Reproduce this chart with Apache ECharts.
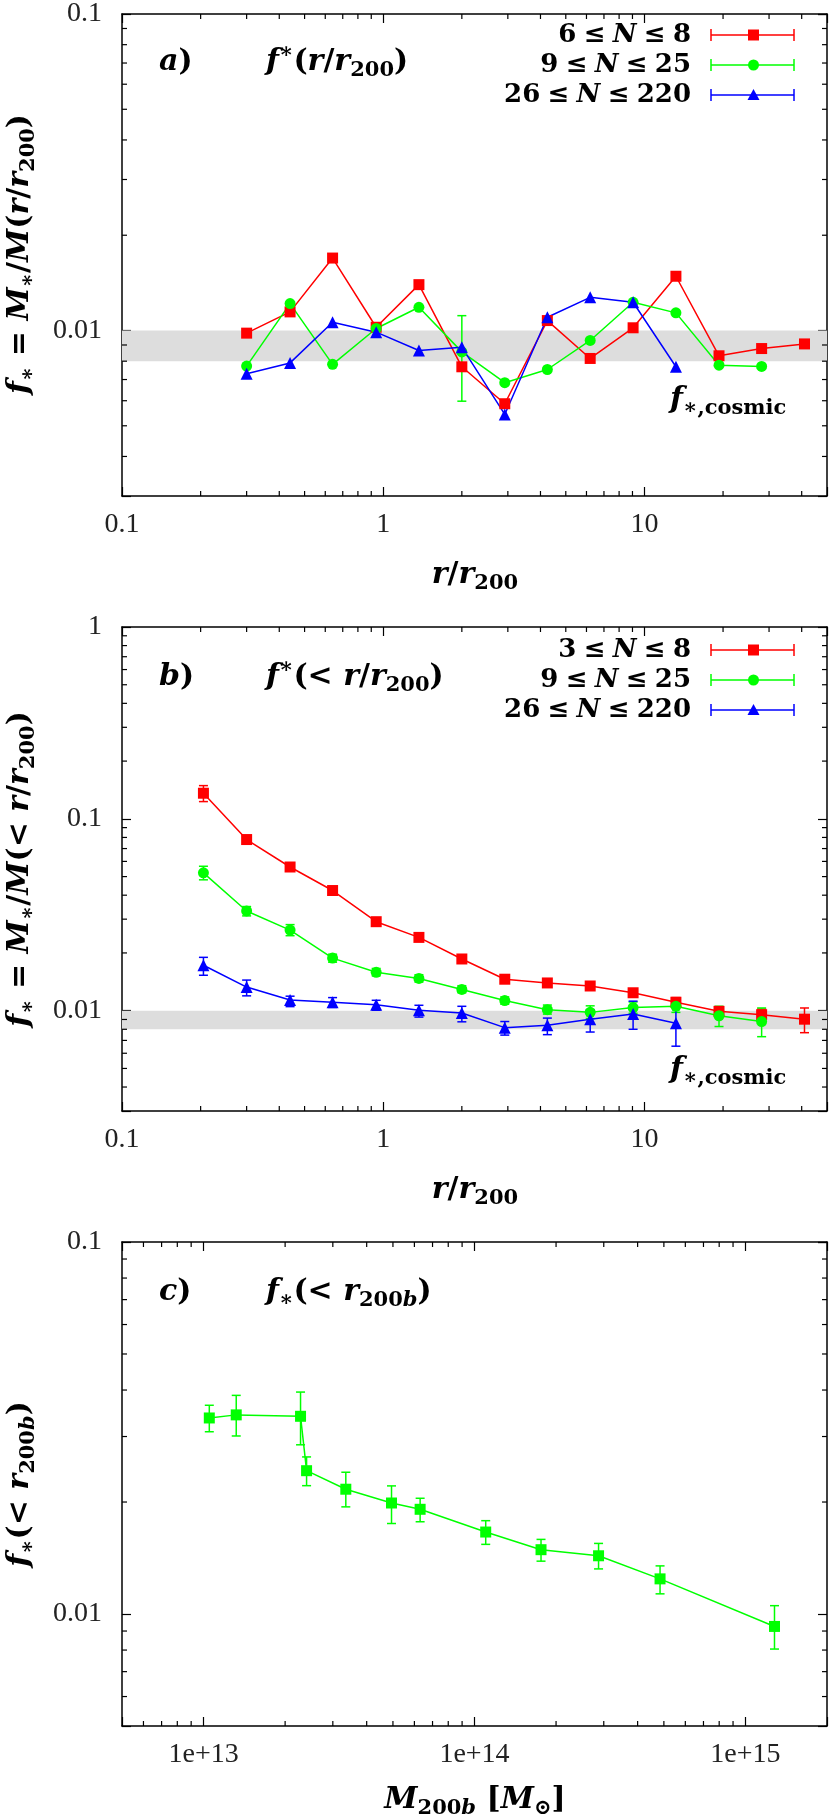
<!DOCTYPE html>
<html>
<head>
<meta charset="utf-8">
<title>f* profiles</title>
<script src="https://cdn.jsdelivr.net/npm/echarts@6/dist/echarts.min.js"></script>
<style>body{margin:0;background:#fff}</style>
</head>
<body>
<div id="main" style="width:830px;height:1817px;"></div>
<script type="text/javascript">
// ---- panel a: f*(r/r200), differential ----
var xA = [0.3, 0.44, 0.64, 0.94, 1.37, 2.0, 2.92, 4.25, 6.2, 9.05, 13.2, 19.3, 28.1, 41];
var aRed = [0.00981, 0.01145, 0.01694, 0.01024, 0.01396, 0.00768, 0.00587, 0.01075, 0.00816, 0.0102, 0.01484, 0.00832, 0.00877, 0.00907];
var aGreen = [0.00772, 0.01216, 0.00782, 0.01015, 0.01184, 0.00856, 0.00684, 0.00753, 0.0093, 0.01228, 0.01137, 0.00777, 0.0077];
var aBlue = [0.0073, 0.0079, 0.01062, 0.00988, 0.00865, 0.00886, 0.00543, 0.01101, 0.01273, 0.01228, 0.00768];
var aGreenErr = [[2.0, 0.00598, 0.01114]];

// ---- panel b: f*(<r/r200), cumulative ----
var xB = [0.205, 0.3, 0.44, 0.64, 0.94, 1.37, 2.0, 2.92, 4.25, 6.2, 9.05, 13.2, 19.3, 28.1, 41];
var bRed = [0.136, 0.078, 0.0561, 0.0423, 0.0291, 0.0241, 0.0186, 0.01459, 0.01395, 0.01345, 0.0124, 0.01107, 0.00992, 0.00953, 0.00903];
var bRedLo = [0.123, 0.0755, 0.0545, 0.041, 0.0283, 0.0235, 0.0181, 0.0142, 0.0135, 0.0130, 0.0119, 0.0105, 0.0094, 0.0089, 0.00768];
var bRedHi = [0.149, 0.0805, 0.0578, 0.0436, 0.0299, 0.0247, 0.0191, 0.0150, 0.0144, 0.0139, 0.0129, 0.0117, 0.0105, 0.0102, 0.01033];
var bGreen = [0.0523, 0.0331, 0.0263, 0.0188, 0.01585, 0.01472, 0.01291, 0.01129, 0.01012, 0.0098, 0.01038, 0.01054, 0.00941, 0.00878];
var bGreenLo = [0.0481, 0.0312, 0.0246, 0.0179, 0.0152, 0.0141, 0.0124, 0.0108, 0.0096, 0.0091, 0.0097, 0.0098, 0.00827, 0.00732];
var bGreenHi = [0.0566, 0.0349, 0.0281, 0.0197, 0.0166, 0.0154, 0.0135, 0.0118, 0.0107, 0.0106, 0.0111, 0.0113, 0.01054, 0.01033];
var bBlue = [0.01726, 0.01328, 0.01138, 0.01107, 0.01073, 0.01004, 0.00972, 0.00816, 0.0084, 0.00903, 0.0096, 0.00861];
var bBlueLo = [0.0153, 0.01195, 0.0105, 0.0104, 0.01005, 0.00926, 0.00875, 0.00746, 0.0075, 0.00774, 0.008, 0.00653];
var bBlueHi = [0.01897, 0.01444, 0.0119, 0.0117, 0.01133, 0.01067, 0.01054, 0.00878, 0.00915, 0.01012, 0.01121, 0.01107];

// ---- panel c: f*(<r200b) vs M200b ----
var xC = [1.05e13, 1.32e13, 2.28e13, 2.40e13, 3.35e13, 4.94e13, 6.3e13, 1.10e14, 1.76e14, 2.87e14, 4.84e14, 1.28e15];
var cVal = [0.03365, 0.0343, 0.0340, 0.02428, 0.02165, 0.01988, 0.01912, 0.01661, 0.01489, 0.01434, 0.01243, 0.00926];
var cLo = [0.0309, 0.0301, 0.0285, 0.02213, 0.01941, 0.01751, 0.0177, 0.01539, 0.01387, 0.01322, 0.01133, 0.00805];
var cHi = [0.0364, 0.0387, 0.0395, 0.02644, 0.02405, 0.0221, 0.02047, 0.01782, 0.01587, 0.01548, 0.01347, 0.01053];

// cosmic stellar fraction band
var cosmicBand = [0.008, 0.01];

var legendA = [['6', '8'], ['9', '25'], ['26', '220']];
var legendB = [['3', '8'], ['9', '25'], ['26', '220']];

var RED = '#ff0000', GREEN = '#00ff00', BLUE = '#0000ff';
var FONT = '"Liberation Serif", "DejaVu Serif", serif';   // tick labels
var MATH = '"DejaVu Serif", serif';                        // bold math text

// grid boxes (pixels)
var GL = 122, GW = 706, GH = 484;
var tops = [12, 627, 1242];

var myChart = echarts.init(document.getElementById('main'));

function zip(x, y) { return y.map(function (v, i) { return [x[i], v]; }); }
function zip3(x, lo, hi) { return lo.map(function (v, i) { return [x[i], v, hi[i]]; }); }

function minorTicks(lo, hi) {
	var out = [];
	for (var e = Math.floor(Math.log10(lo)); e <= Math.ceil(Math.log10(hi)); e++) {
		for (var m = 2; m <= 9; m++) {
			var v = m * Math.pow(10, e);
			if (v > lo * 1.0001 && v < hi * 0.9999) out.push(v);
		}
	}
	return out;
}

function decadeLabel(sci) {
	return function (v) {
		var l = Math.log10(v), e = Math.round(l);
		if (Math.abs(l - e) > 1e-6) return '';
		if (sci) return '1e+' + e;
		return e >= 0 ? String(Math.pow(10, e)) : Math.pow(10, e).toFixed(-e);
	};
}

function axis(g, pos, min, max, labels, sci, margin) {
	return {
		type: 'log', logBase: 10, gridIndex: g, position: pos, min: min, max: max,
		axisLine: { show: true, onZero: false, lineStyle: { color: '#000', width: 1.5 } },
		axisTick: { show: true, inside: true, length: 9, lineStyle: { color: '#000', width: 1.2 } },
		axisLabel: { show: labels, margin: margin, fontFamily: FONT, fontSize: 28, color: '#222', formatter: decadeLabel(sci) },
		splitLine: { show: false }
	};
}

function lineSeries(g, data, color, symbol, size, extra) {
	var s = {
		type: 'line', xAxisIndex: 2 * g, yAxisIndex: 2 * g, data: data,
		symbol: symbol, symbolSize: size, showAllSymbol: true,
		lineStyle: { color: color, width: 1.5 }, itemStyle: { color: color },
		z: 4, silent: true
	};
	if (extra) for (var k in extra) s[k] = extra[k];
	return s;
}

function errSeries(g, data, color) {
	return {
		type: 'custom', xAxisIndex: 2 * g, yAxisIndex: 2 * g, data: data, silent: true, z: 3,
		encode: { x: 0, y: [1, 2] },
		renderItem: function (params, api) {
			var x = api.value(0);
			var p1 = api.coord([x, api.value(1)]), p2 = api.coord([x, api.value(2)]);
			var c = 4.5, st = { stroke: color, lineWidth: 1.5 };
			return {
				type: 'group', children: [
					{ type: 'line', shape: { x1: p1[0], y1: p1[1], x2: p2[0], y2: p2[1] }, style: st },
					{ type: 'line', shape: { x1: p1[0] - c, y1: p1[1], x2: p1[0] + c, y2: p1[1] }, style: st },
					{ type: 'line', shape: { x1: p2[0] - c, y1: p2[1], x2: p2[0] + c, y2: p2[1] }, style: st }
				]
			};
		}
	};
}

// minor log ticks on all four sides of a grid
function tickSeries(g, dir, values, ref) {
	return {
		type: 'custom', xAxisIndex: 2 * g, yAxisIndex: 2 * g, silent: true, z: 6,
		data: values.map(function (v) { return dir === 'x' ? [v, ref] : [ref, v]; }),
		encode: { x: 0, y: 1 },
		renderItem: function (params, api) {
			var cs = params.coordSys, p = api.coord([api.value(0), api.value(1)]);
			var L = 5, st = { stroke: '#000', lineWidth: 1.2 };
			if (dir === 'x') {
				return { type: 'group', children: [
					{ type: 'line', shape: { x1: p[0], y1: cs.y + cs.height, x2: p[0], y2: cs.y + cs.height - L }, style: st },
					{ type: 'line', shape: { x1: p[0], y1: cs.y, x2: p[0], y2: cs.y + L }, style: st }
				] };
			}
			return { type: 'group', children: [
				{ type: 'line', shape: { x1: cs.x, y1: p[1], x2: cs.x + L, y2: p[1] }, style: st },
				{ type: 'line', shape: { x1: cs.x + cs.width, y1: p[1], x2: cs.x + cs.width - L, y2: p[1] }, style: st }
			] };
		}
	};
}

function rich(size) {
	var b = { fontFamily: MATH, fontWeight: 'bold', color: '#111' };
	function st(o) { var r = {}; for (var k in b) r[k] = b[k]; for (var j in o) r[j] = o[j]; return r; }
	return {
		i: st({ fontSize: size, fontStyle: 'italic', lineHeight: size * 1.3, verticalAlign: 'middle' }),
		n: st({ fontSize: size, lineHeight: size * 1.3, verticalAlign: 'middle' }),
		rel: st({ fontSize: size, lineHeight: size * 1.3, verticalAlign: 'middle', padding: [0, size * 0.28] }),
		sub: st({ fontSize: size * 0.7, lineHeight: size * 0.7, verticalAlign: 'bottom' }),
		subi: st({ fontSize: size * 0.7, fontStyle: 'italic', lineHeight: size * 0.7, verticalAlign: 'bottom' }),
		sup: st({ fontSize: size * 0.7, lineHeight: size * 0.75, verticalAlign: 'top' })
	};
}

function label(text, x, y, size, align, rot) {
	return {
		type: 'text', x: x, y: y, rotation: rot || 0, silent: true, z: 10,
		style: { text: text, rich: rich(size), align: align || 'left', verticalAlign: 'middle',
			textAlign: align || 'left', textVerticalAlign: 'middle' }
	};
}

function legendRows(top, rows) {
	var cols = [[RED, 'rect'], [GREEN, 'circle'], [BLUE, 'tri']];
	var els = [];
	rows.forEach(function (r, i) {
		var y = top + 23 + 30 * i, c = cols[i][0], st = { stroke: c, lineWidth: 1.5 };
		els.push(label('{n|' + r[0] + '}{rel|≤}{i|N}{rel|≤}{n|' + r[1] + '}', 691, y, 26, 'right'));
		els.push({ type: 'line', shape: { x1: 711, y1: y, x2: 794, y2: y }, style: st, silent: true });
		els.push({ type: 'line', shape: { x1: 711, y1: y - 6, x2: 711, y2: y + 6 }, style: st, silent: true });
		els.push({ type: 'line', shape: { x1: 794, y1: y - 6, x2: 794, y2: y + 6 }, style: st, silent: true });
		if (cols[i][1] === 'rect') els.push({ type: 'rect', shape: { x: 748, y: y - 5.5, width: 11, height: 11 }, style: { fill: c }, silent: true });
		else if (cols[i][1] === 'circle') els.push({ type: 'circle', shape: { cx: 753.5, cy: y, r: 5.5 }, style: { fill: c }, silent: true });
		else els.push({ type: 'polygon', shape: { points: [[753.5, y - 6], [759.5, y + 5], [747.5, y + 5]] }, style: { fill: c }, silent: true });
	});
	return els;
}

var grids = tops.map(function (t) { return { left: GL, top: t, width: GW, height: GH, containLabel: false }; });

var ranges = [
	{ x: [0.1, 50], y: [0.003, 0.1], sci: false },
	{ x: [0.1, 50], y: [0.003, 1], sci: false },
	{ x: [5e12, 2e15], y: [0.005, 0.1], sci: true }
];

var xAxes = [], yAxes = [];
ranges.forEach(function (r, g) {
	xAxes.push(axis(g, 'bottom', r.x[0], r.x[1], true, r.sci, 15));
	xAxes.push(axis(g, 'top', r.x[0], r.x[1], false, r.sci, 15));
	yAxes.push(axis(g, 'left', r.y[0], r.y[1], true, false, 20));
	yAxes.push(axis(g, 'right', r.y[0], r.y[1], false, false, 20));
});

var band = {
	silent: true, itemStyle: { color: '#dddddd' },
	data: [[{ yAxis: cosmicBand[0] }, { yAxis: cosmicBand[1] }]]
};

var series = [
	// panel a
	lineSeries(0, zip(xA, aRed), RED, 'rect', 11, { markArea: band }),
	lineSeries(0, zip(xA, aGreen), GREEN, 'circle', 11),
	lineSeries(0, zip(xA, aBlue), BLUE, 'triangle', 12),
	errSeries(0, aGreenErr, GREEN),
	// panel b
	lineSeries(1, zip(xB, bRed), RED, 'rect', 11, { markArea: band }),
	lineSeries(1, zip(xB, bGreen), GREEN, 'circle', 11),
	lineSeries(1, zip(xB, bBlue), BLUE, 'triangle', 12),
	errSeries(1, zip3(xB, bRedLo, bRedHi), RED),
	errSeries(1, zip3(xB, bGreenLo, bGreenHi), GREEN),
	errSeries(1, zip3(xB, bBlueLo, bBlueHi), BLUE),
	// panel c
	lineSeries(2, zip(xC, cVal), GREEN, 'rect', 11),
	errSeries(2, zip3(xC, cLo, cHi), GREEN)
];
ranges.forEach(function (r, g) {
	series.push(tickSeries(g, 'x', minorTicks(r.x[0], r.x[1]), r.y[0]));
	series.push(tickSeries(g, 'y', minorTicks(r.y[0], r.y[1]), r.x[0]));
});

var graphics = [
	// y titles
	label('{i|f}{sub|∗}{n| = }{i|M}{sub|∗}{n|/}{i|M}{n|(}{i|r}{n|/}{i|r}{sub|200}{n|)}', 20, tops[0] + GH / 2, 30, 'center', Math.PI / 2),
	label('{i|f}{sub|∗}{n| = }{i|M}{sub|∗}{n|/}{i|M}{n|(< }{i|r}{n|/}{i|r}{sub|200}{n|)}', 20, tops[1] + GH / 2, 30, 'center', Math.PI / 2),
	label('{i|f}{sub|∗}{n|(< }{i|r}{sub|200}{subi|b}{n|)}', 20, tops[2] + GH / 2, 30, 'center', Math.PI / 2),
	// x titles
	label('{i|r}{n|/}{i|r}{sub|200}', GL + GW / 2, 575, 30, 'center'),
	label('{i|r}{n|/}{i|r}{sub|200}', GL + GW / 2, 1190, 30, 'center'),
	label('{i|M}{sub|200}{subi|b}{n| [}{i|M}{sub|⊙}{n|]}', GL + GW / 2, 1800, 30, 'center'),
	// panel tags
	label('{i|a}{n|)}', 159, tops[0] + 50, 30),
	label('{i|f}{sup|∗}{n|(}{i|r}{n|/}{i|r}{sub|200}{n|)}', 266, tops[0] + 50, 30),
	label('{i|b}{n|)}', 159, tops[1] + 50, 30),
	label('{i|f}{sup|∗}{n|(< }{i|r}{n|/}{i|r}{sub|200}{n|)}', 266, tops[1] + 50, 30),
	label('{i|c}{n|)}', 159, tops[2] + 50, 30),
	label('{i|f}{sub|∗}{n|(< }{i|r}{sub|200}{subi|b}{n|)}', 266, tops[2] + 50, 30),
	// cosmic labels
	label('{i|f}{sub|∗,cosmic}', 670, 400, 30),
	label('{i|f}{sub|∗,cosmic}', 670, 1070, 30)
].concat(legendRows(tops[0], legendA), legendRows(tops[1], legendB));

var option = {
	animation: false,
	backgroundColor: '#fff',
	grid: grids,
	xAxis: xAxes,
	yAxis: yAxes,
	series: series,
	graphic: graphics
};
myChart.setOption(option);
</script>
</body>
</html>
